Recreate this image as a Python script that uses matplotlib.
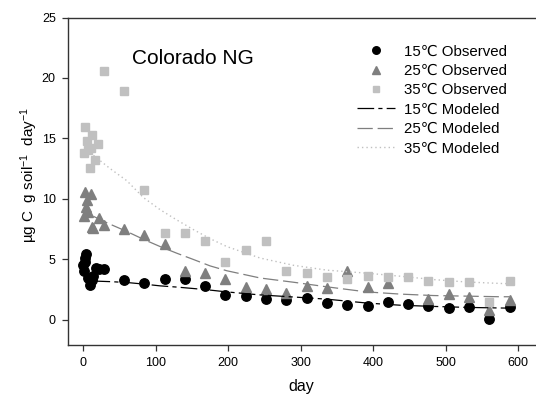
import matplotlib
matplotlib.use("Agg")
import matplotlib.pyplot as plt

plt.rcParams['font.family'] = ['Liberation Sans', 'DejaVu Sans']
plt.rcParams['mathtext.fontset'] = 'custom'
plt.rcParams['mathtext.rm'] = 'Liberation Sans'
plt.rcParams['mathtext.it'] = 'Liberation Sans:italic'
plt.rcParams['lines.scale_dashes'] = False

# Observed respiration rates (ug C g soil^-1 day^-1)
days_15 = [0, 1, 2, 3, 4, 7, 9, 12, 14, 17, 21, 28, 56, 84, 112, 140, 168, 196, 224,
           252, 280, 308, 336, 364, 392, 420, 448, 476, 504, 532, 560, 588]
obs_15 = [4.55, 4.0, 4.8, 5.1, 5.45, 3.45, 2.85, 3.3, 3.6, 4.25, 4.2, 4.2, 3.25, 3.0,
          3.35, 3.35, 2.75, 2.05, 1.95, 1.75, 1.6, 1.8, 1.4, 1.2, 1.1, 1.5, 1.3, 1.15,
          1.0, 1.05, 0.05, 1.05]

days_25 = [1, 3, 4, 5, 7, 10, 12, 14, 21, 28, 56, 84, 112, 140, 168, 196, 224, 252,
           280, 308, 336, 364, 392, 420, 476, 504, 532, 560, 588]
obs_25 = [8.6, 10.6, 9.3, 9.9, 8.9, 10.4, 7.7, 7.6, 8.4, 7.85, 7.5, 7.0, 6.3, 4.05,
          3.9, 3.4, 2.7, 2.5, 2.2, 2.75, 2.6, 4.0, 2.7, 3.0, 1.75, 2.1, 1.85, 0.8, 1.6]

days_35 = [1, 2, 5, 6, 9, 11, 12, 16, 20, 28, 56, 84, 112, 140, 168, 196, 224, 252,
           280, 308, 336, 364, 392, 420, 448, 476, 504, 532, 560, 588]
obs_35 = [13.8, 15.95, 14.75, 14.0, 12.55, 14.2, 15.3, 13.25, 14.55, 20.6, 18.9, 10.7,
          7.2, 7.2, 6.5, 4.8, 5.8, 6.55, 4.05, 3.9, 3.5, 3.4, 3.6, 3.5, 3.5, 3.2, 3.1,
          3.1, 1.5, 3.2]

# Modeled curves
mod_days = [14, 37, 60, 83, 106, 129, 152, 175, 198, 244, 290, 336, 391, 437, 483,
            529, 575, 588]
mod_15 = [3.2, 3.15, 3.08, 2.95, 2.8, 2.7, 2.58, 2.45, 2.3, 2.05, 1.88, 1.7, 1.38,
          1.2, 1.1, 1.02, 0.97, 0.96]
mod_25 = [8.55, 7.9, 7.3, 6.65, 6.05, 5.5, 4.98, 4.45, 4.05, 3.45, 3.1, 2.72, 2.3,
          2.12, 2.0, 1.95, 1.9, 1.9]
mod_35 = [13.6, 12.5, 11.5, 10.1, 9.1, 8.25, 7.45, 6.7, 6.05, 5.1, 4.5, 4.1, 3.85,
          3.6, 3.32, 3.12, 3.0, 2.98]

labels_obs = ['15\u2103 Observed', '25\u2103 Observed', '35\u2103 Observed']
labels_mod = ['15\u2103 Modeled', '25\u2103 Modeled', '35\u2103 Modeled']

c15, c25, c35 = '#000000', '#7f7f7f', '#c0c0c0'

fig = plt.figure(figsize=(5.36, 4.03), dpi=100)
ax = fig.add_axes([68.3 / 536, 1 - 344.5 / 403, 1 - 68.3 / 536, (344.5 - 17.5) / 403])

h1, = ax.plot(days_15, obs_15, 'o', color=c15, ms=6.8, mec=c15, ls='none')
h2, = ax.plot(days_25, obs_25, '^', color=c25, ms=7.8, mec=c25, ls='none')
h3, = ax.plot(days_35, obs_35, 's', color=c35, ms=5.8, mec=c35, ls='none')

l1, = ax.plot(mod_days, mod_15, color=c15, lw=0.9, dashes=(12, 3, 3, 3))
l2, = ax.plot(mod_days, mod_25, color=c25, lw=0.9, dashes=(11, 3.5))
l3, = ax.plot(mod_days, mod_35, color=c35, lw=1.0, dashes=(1, 2.2))

ax.set_xlim(-20.7, 624.4)
ax.set_ylim(-2.05, 25)
ax.set_xticks(range(0, 601, 100))
ax.set_yticks(range(0, 26, 5))
ax.tick_params(direction='out', length=4, width=0.9, color='#333333',
               labelsize=9)
ax.tick_params(axis='x', pad=5)
ax.tick_params(axis='y', pad=5)
for s in ('left', 'bottom', 'top'):
    ax.spines[s].set_color('#333333')
    ax.spines[s].set_linewidth(1.0)
ax.spines['right'].set_visible(False)

ax.set_xlabel('day', fontsize=11.5)
ax.xaxis.set_label_coords((301 - 68.3) / 467.7, (344.5 - 387) / 327)
ax.xaxis.label.set_va('center')
ax.set_ylabel('\u00b5g C  g soil$^{-1}$  day$^{-1}$', fontsize=11)
ax.yaxis.set_label_coords((29 - 68.3) / 467.7, (344.5 - 175) / 327)
ax.yaxis.label.set_va('center')

ax.text((132 - 68.3) / 467.7, (344.5 - 58) / 327, 'Colorado NG',
        transform=ax.transAxes, fontsize=15, ha='left', va='center')

leg = ax.legend([h1, h2, h3, l1, l2, l3], labels_obs + labels_mod,
                loc='upper left', bbox_to_anchor=(357 / 536, 1 - 44.5 / 403),
                bbox_transform=fig.transFigure, frameon=False, fontsize=10.8,
                handlelength=2.5, handletextpad=0.6, labelspacing=0.36,
                borderpad=0, borderaxespad=0, markerscale=0.8)

fig.savefig('out.png', dpi=100)
